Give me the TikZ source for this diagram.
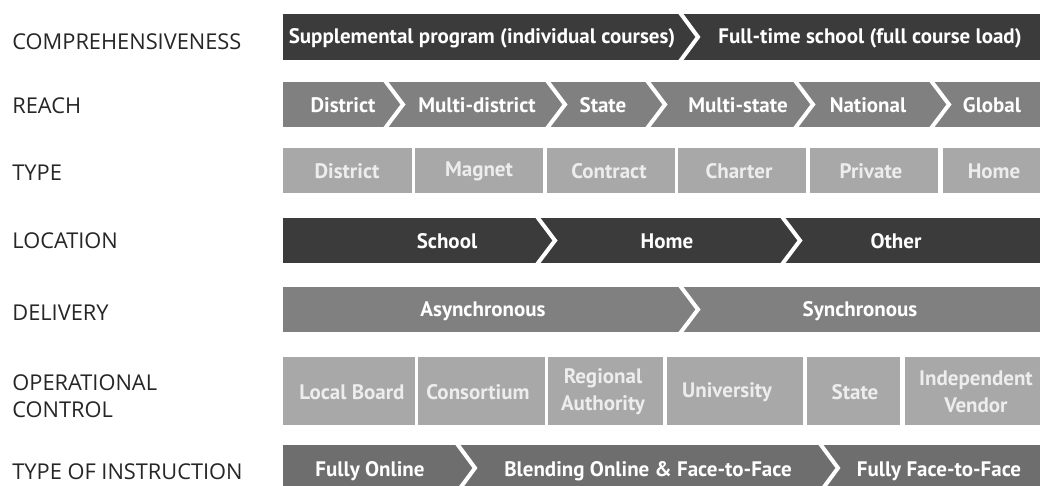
\documentclass[tikz,border=0pt]{standalone}
\usepackage{fontspec}
\setmainfont{Open Sans}
\newfontfamily\barfont{PT Sans}
\tikzset{
	dimlabel/.append style={
		anchor=west,
		align=left,
		inner sep=0pt,
		text=black!85,
		font={\fontsize{10.9}{13.5}\selectfont}
	},
	seglabel/.append style={
		align=center,
		inner sep=0pt,
		text=white,
		font={\barfont\bfseries\fontsize{10.5}{13.5}\selectfont}
	},
	paletext/.append style={
		text=white!93!black
	},
	sepline/.append style={
		draw=white,
		line width=2pt,
		line join=miter
	},
	darkbar/.style ={fill=black!77},
	midbar/.style ={fill=black!50},
	palebar/.style ={fill=black!34},
	deepbar/.style ={fill=black!57},
}

\begin{document}
\begin{tikzpicture}[x=0.5pt, y=-0.5pt]
		\clip (0,0) rectangle (1044,486);
		\fill[white] (0,0) rectangle (1044,486);
		
		% row labels
		\node(comp)[dimlabel] at (12,42) {COMPREHENSIVENESS};
		\node(reach)[dimlabel] at (12,106) {REACH};
		\node(type)[dimlabel] at (12,173) {TYPE};
		\node(loc)[dimlabel] at (12,241) {LOCATION};
		\node(deliv)[dimlabel] at (12,313) {DELIVERY};
		\node(opctrl)[dimlabel] at (12,396) {OPERATIONAL\\CONTROL};
		\node(instr)[dimlabel] at (12,472) {TYPE OF INSTRUCTION};
		
		% comprehensiveness
		\fill[darkbar] (283,14) rectangle (1040,60);
		\draw[sepline] (678,10) -- (698,37) -- (678,64);
		\node(supp)[seglabel] at (482,38) {Supplemental program (individual courses)};
		\node(full)[seglabel] at (870,38) {Full-time school (full course load)};
		
		% reach
		\fill[midbar] (283,82) rectangle (1040,127);
		\foreach \x in {383,545,645,793,929}{
			\draw[sepline] (\x,78) -- (\x+20,104.5) -- (\x,131);
		};
		\node(rdist)[seglabel] at (343,105.5) {District};
		\node(rmulti)[seglabel] at (477,105.5) {Multi-district};
		\node(rstate)[seglabel] at (603,105.5) {State};
		\node(rmstate)[seglabel] at (738,105.5) {Multi-state};
		\node(rnat)[seglabel] at (868,105.5) {National};
		\node(rglob)[seglabel] at (992,105.5) {Global};
		
		% type
		\foreach \a/\b in {283/412, 415/543, 547/675, 678/806, 810/938, 943/1040}{
			\fill[palebar] (\a,148) rectangle (\b,193);
		};
		\node(tdist)[seglabel, paletext] at (347,171.5) {District};
		\node(tmag)[seglabel, paletext] at (479,171.5) {Magnet};
		\node(tcont)[seglabel, paletext] at (609,171.5) {Contract};
		\node(tchart)[seglabel, paletext] at (739,171.5) {Charter};
		\node(tpriv)[seglabel, paletext] at (871,171.5) {Private};
		\node(thome)[seglabel, paletext] at (994,171.5) {Home};
		
		% location
		\fill[darkbar] (283,218) rectangle (1040,263);
		\foreach \x in {535,780}{
			\draw[sepline] (\x,214) -- (\x+20,240.5) -- (\x,267);
		};
		\node(lschool)[seglabel] at (447,241.5) {School};
		\node(lhome)[seglabel] at (667,241.5) {Home};
		\node(lother)[seglabel] at (896,241.5) {Other};
		
		% delivery
		\fill[midbar] (283,287) rectangle (1040,332);
		\draw[sepline] (678,283) -- (698,309.5) -- (678,336);
		\node(async)[seglabel] at (483,311) {Asynchronous};
		\node(sync)[seglabel] at (860,311) {Synchronous};
		
		% operational control
		\foreach \a/\b in {283/415, 418/545, 548/663, 667/803, 807/900, 905/1040}{
			\fill[palebar] (\a,357) rectangle (\b,425);
		};
		\node(oboard)[seglabel, paletext] at (352,392) {Local Board};
		\node(ocons)[seglabel, paletext] at (478,392) {Consortium};
		\node(oreg)[seglabel, paletext] at (603,392) {Regional\\Authority};
		\node(ouni)[seglabel, paletext] at (727,392) {University};
		\node(ostate)[seglabel, paletext] at (855,392) {State};
		\node(oindep)[seglabel, paletext] at (976,392) {Independent\\Vendor};
		
		% type of instruction
		\fill[deepbar] (283,445) rectangle (1040,491);
		\foreach \x in {455,818}{
			\draw[sepline] (\x,441) -- (\x+20,468) -- (\x,495);
		};
		\node(ionline)[seglabel] at (370,471) {Fully Online};
		\node(iblend)[seglabel] at (648,471) {Blending Online \& Face-to-Face};
		\node(iface)[seglabel] at (939,471) {Fully Face-to-Face};
		
\end{tikzpicture}
\end{document}
